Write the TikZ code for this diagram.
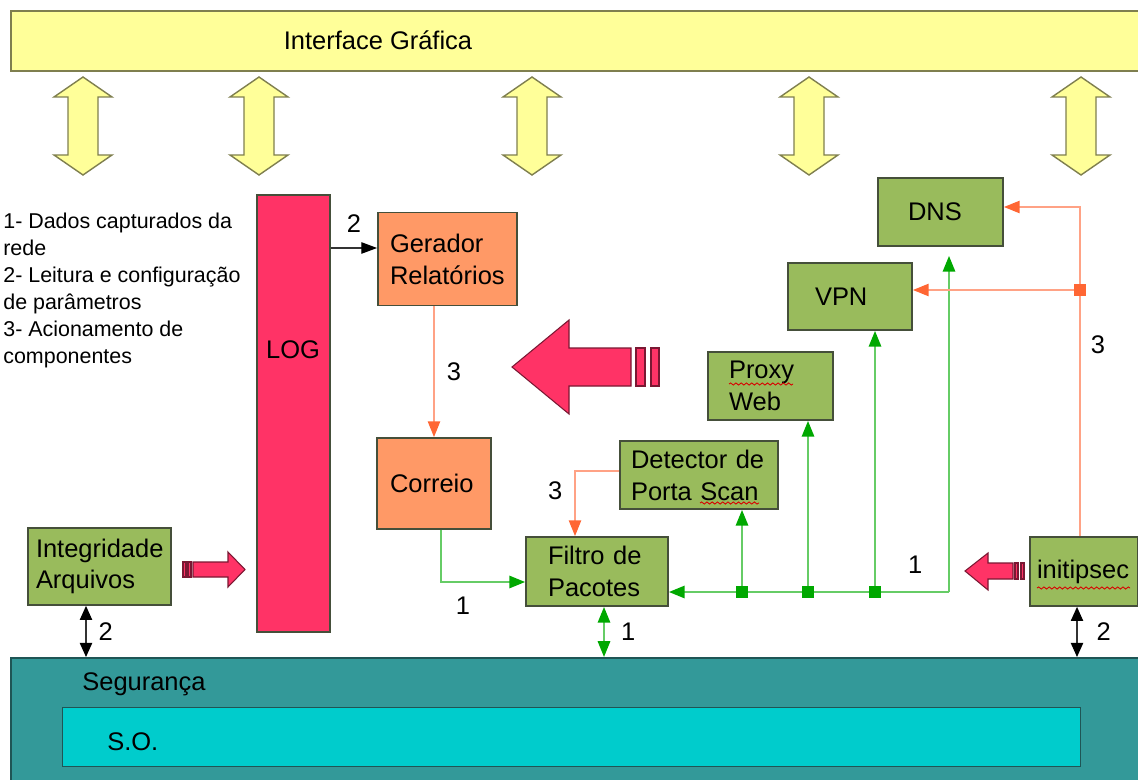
\documentclass[tikz,border=0pt]{standalone}
\usepackage{fontspec}
\setmainfont{Liberation Sans}
\usetikzlibrary{arrows.meta,decorations.pathmorphing}

\definecolor{amarelo}{HTML}{FFFF99}
\definecolor{bordaamarela}{HTML}{7F7F4F}
\definecolor{rosa}{HTML}{FF3366}
\definecolor{bordarosa}{HTML}{7A1833}
\definecolor{verdebloco}{HTML}{99BB5C}
\definecolor{laranja}{HTML}{FF9966}
\definecolor{borda}{HTML}{454F3A}
\definecolor{linhaverde}{HTML}{66CC66}
\definecolor{pontaverde}{HTML}{00A800}
\definecolor{linhalaranja}{HTML}{FFA285}
\definecolor{pontalaranja}{HTML}{FF6633}
\definecolor{seguranca}{HTML}{339999}
\definecolor{sistema}{HTML}{00CCCC}
\definecolor{bordateal}{HTML}{1F5555}

\def\px{0.02cm}
\newcommand\fonte{\fontsize{14.5}{18.1}\selectfont}

\begin{document}
\begin{tikzpicture}[x=\px, y=-\px,
    bloco/.style={draw=borda, line width=1pt, inner ysep=0pt, align=left, font=\fonte},
    verde/.style={bloco, fill=verdebloco},
    rotulo/.style={inner sep=0pt, font=\fonte},
    setaam/.style={draw=bordaamarela, fill=amarelo, line width=0.8pt, line join=miter},
    setarosa/.style={draw=bordarosa, fill=rosa, line width=0.6pt},
    garrow/.style={draw=linhaverde, line width=1.2pt, -{Triangle[length=9pt,width=7pt,color=pontaverde]}},
    gdupla/.style={draw=linhaverde, line width=1.2pt, {Triangle[length=9pt,width=7pt,color=pontaverde]}-{Triangle[length=9pt,width=7pt,color=pontaverde]}},
    oarrow/.style={draw=linhalaranja, line width=0.9pt, -{Triangle[length=9pt,width=7pt,color=pontalaranja]}},
    oline/.style={draw=linhalaranja, line width=0.9pt},
    barrow/.style={draw=black!80, line width=0.7pt, -{Triangle[length=9pt,width=6.5pt,color=black]}},
    bdupla/.style={draw=black!80, line width=0.7pt, {Triangle[length=8pt,width=7pt,color=black]}-{Triangle[length=8pt,width=7pt,color=black]}},
    gjunc/.style={fill=pontaverde, inner sep=0pt, minimum size=12*\px},
    ojunc/.style={fill=pontalaranja, inner sep=0pt, minimum size=12*\px},
    erro/.style={draw=red!85!black, line width=0.5pt, decorate, decoration={snake, amplitude=0.6pt, segment length=3pt}}]
    \useasboundingbox (0,0) rectangle (1138,780);

    % interface grafica
    \node[draw=bordaamarela, fill=amarelo, line width=1pt, anchor=north west,
          minimum width=1140*\px, minimum height=60*\px] (igf) at (10,10) {};
    \node[rotulo] (igftxt) at (378,40) {Interface Gráfica};
    % setas amarelas
    \foreach \x in {83,259,532,809,1081}
        \draw[setaam] (\x,77) -- ++(29,20) -- ++(-14,0) -- ++(0,58) -- ++(14,0) -- (\x,175)
            -- ++(-29,-20) -- ++(14,0) -- ++(0,-58) -- ++(-14,0) -- cycle;

    % legenda
    \node[anchor=north west, align=left, inner sep=0pt, font=\fontsize{12.2}{15.3}\selectfont] (legenda) at (3,213)
        {1- Dados capturados da\\rede\\2- Leitura e configuração\\de parâmetros\\3- Acionamento de\\componentes};

    % LOG
    \node[bloco, fill=rosa, minimum width=73*\px, minimum height=437*\px] (log) at (293.5,413.5) {};
    \node[rotulo] (logtxt) at (293,350) {LOG};

    % blocos
    \node[bloco, fill=laranja, inner xsep=12*\px, text width=115*\px, minimum height=93*\px] (ger) at (447.5,259) {Gerador\\Relatórios};
    \node[bloco, fill=laranja, inner xsep=13*\px, text width=88*\px, minimum height=91*\px] (cor) at (434,483.5) {Correio};
    \node[verde, inner xsep=30*\px, text width=65*\px, minimum height=68*\px] (dns) at (940.5,212) {DNS};
    \node[verde, inner xsep=27*\px, text width=70*\px, minimum height=67*\px] (vpn) at (850,296.5) {VPN};
    \node[verde, inner xsep=21*\px, text width=83*\px, minimum height=68*\px] (proxy) at (770.5,386) {Proxy\\Web};
    \node[verde, inner xsep=11*\px, text width=136*\px, minimum height=68*\px] (det) at (699,475) {Detector de\\Porta Scan};
    \node[verde, inner xsep=22*\px, text width=98*\px, minimum height=69*\px] (filt) at (597,571.5) {Filtro de\\Pacotes};
    \node[verde, inner xsep=8*\px, text width=127*\px, minimum height=77*\px] (integ) at (99.5,566.5) {Integridade\\Arquivos};
    \node[verde, inner xsep=7*\px, text width=94*\px, minimum height=69*\px] (ini) at (1084,571.5) {initipsec};

    % marcas de ortografia
    \draw[erro] (729,384) -- (793,384);
    \draw[erro] (700,503) -- (759,503);
    \draw[erro] (1037,588) -- (1130,588);

    % seguranca e S.O.
    \node[draw=bordateal, fill=seguranca, line width=1pt, anchor=north west,
          minimum width=1140*\px, minimum height=130*\px] (seg) at (10,657) {};
    \node[rotulo, anchor=west] (segtxt) at (82,684) {Segurança};
    \node[draw=bordateal, fill=sistema, line width=0.8pt, anchor=north west,
          minimum width=1018*\px, minimum height=59*\px] (so) at (62,707) {};
    \node[rotulo, anchor=west] (sotxt) at (107,742) {S.O.};

    % setas rosa
    \draw[setarosa] (512,367) -- (569,320) -- (569,348) -- (631,348) -- (631,386) -- (569,386) -- (569,414) -- cycle;
    \draw[setarosa] (636,348) rectangle (645,386);
    \draw[setarosa] (651,348) rectangle (659,386);
    \draw[setarosa] (245,569.5) -- (228,552) -- (228,562) -- (193,562) -- (193,577) -- (228,577) -- (228,587) -- cycle;
    \draw[setarosa] (183,562) rectangle (186,577);
    \draw[setarosa] (188,562) rectangle (191,577);
    \draw[setarosa] (965,571) -- (988,553) -- (988,563) -- (1013,563) -- (1013,579) -- (988,579) -- (988,590) -- cycle;
    \draw[setarosa] (1015,563) rectangle (1018,579);
    \draw[setarosa] (1021,563) rectangle (1024,579);

    % LOG -> gerador
    \coordinate (g2) at ([yshift=11*\px]ger.west);
    \draw[barrow] (log.east |- g2) -- (g2) node[rotulo, midway, above=15*\px] {2};
    % gerador -> correio
    \draw[oarrow] (ger.south -| cor.north) -- (cor.north) node[rotulo, midway, right=12*\px] {3};
    % correio -> filtro
    \draw[garrow] ([xshift=7*\px]cor.south) |- ([yshift=-10.5*\px]filt.west) node[rotulo, pos=0.63, below=14*\px] {1};
    % detector -> filtro
    \draw[oarrow] ([yshift=4*\px]det.west) -| ([xshift=-22*\px]filt.north) node[rotulo, pos=0.65, left=12*\px] {3};

    % barramento verde
    \node[gjunc] (j1) at (742,592) {};
    \node[gjunc] (j2) at (808,592) {};
    \node[gjunc] (j3) at (875,592) {};
    \coordinate (canto) at (949,592);
    \draw[garrow] (canto) -- (j3) node[rotulo, midway, above=17*\px] {1} -- (j2) -- (j1) -- (filt.east |- j1);
    \draw[garrow] (j1) -- (j1 |- det.south);
    \draw[garrow] (j2) -- (j2 |- proxy.south);
    \draw[garrow] (j3) -- (j3 |- vpn.south);
    \draw[garrow, shorten >=9*\px] (canto) -- (canto |- dns.south);

    % initipsec -> DNS e VPN
    \node[ojunc] (oj) at (1080,290) {};
    \draw[oline] ([xshift=-4*\px]ini.north) -- (oj) node[rotulo, pos=0.8, right=10*\px] {3};
    \draw[oarrow] (oj) |- ([yshift=5*\px]dns.east);
    \draw[oarrow] (oj) -- (oj -| vpn.east);

    % ligacoes com seguranca
    \coordinate (ia) at ([xshift=-13.5*\px]integ.south);
    \draw[bdupla] (ia) -- (ia |- seg.north) node[rotulo, midway, right=12*\px] {2};
    \coordinate (fa) at ([xshift=7*\px]filt.south);
    \draw[gdupla] (fa) -- (fa |- seg.north) node[rotulo, midway, right=16*\px] {1};
    \coordinate (na) at ([xshift=-7*\px]ini.south);
    \draw[bdupla] (na) -- (na |- seg.north) node[rotulo, midway, right=19*\px] {2};
\end{tikzpicture}
\end{document}
